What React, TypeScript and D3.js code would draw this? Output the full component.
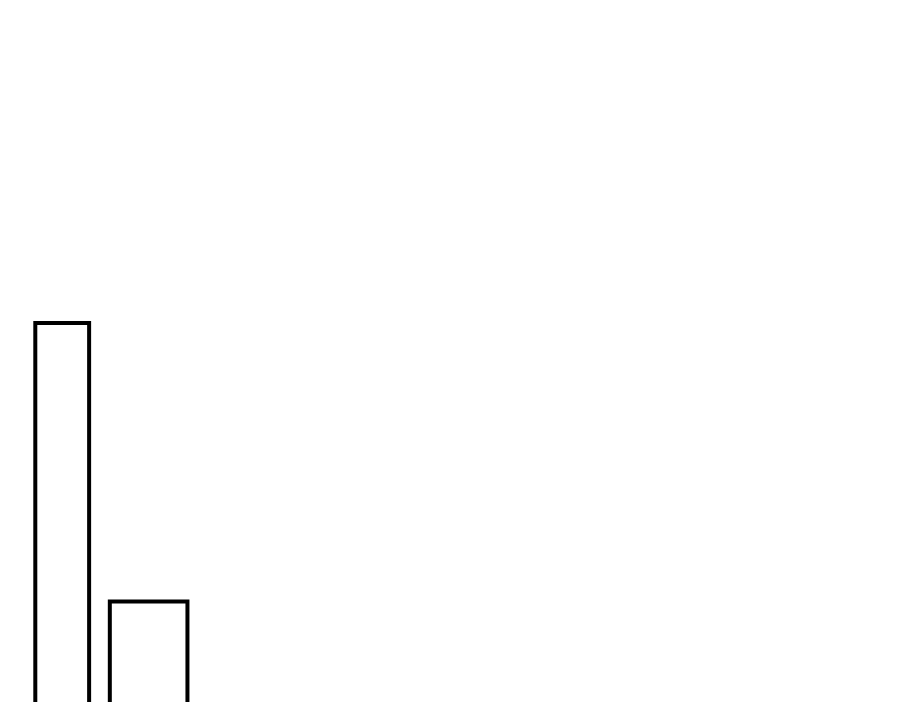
import { useEffect, useRef } from "react";
import * as d3 from "d3";

// Two outlined histogram bins; the baseline sits below the visible frame.
const binStart = [0, 7.2];
const binEnd = [5.2, 14.7];
const counts = [2, 1];

const W = 900;
const H = 702;

export default function App() {
  const svgRef = useRef<SVGSVGElement | null>(null);

  useEffect(() => {
    const svg = d3.select(svgRef.current);
    svg.selectAll("*").remove();

    const x = d3.scaleLinear().domain([0, 10]).range([35.3, 35.3 + 103.5]);
    const y = d3.scaleLinear().domain([0, 2]).range([880, 323]);

    const bins = counts.map((c, i) => ({ x0: binStart[i], x1: binEnd[i], c }));

    svg
      .append("rect")
      .attr("width", W)
      .attr("height", H)
      .attr("fill", "#ffffff");

    svg
      .append("g")
      .selectAll("rect")
      .data(bins)
      .join("rect")
      .attr("x", (d) => x(d.x0))
      .attr("y", (d) => y(d.c))
      .attr("width", (d) => x(d.x1) - x(d.x0))
      .attr("height", (d) => y(0) - y(d.c))
      .attr("fill", "none")
      .attr("stroke", "#000000")
      .attr("stroke-width", 4);
  }, []);

  return (
    <div style={{ position: "fixed", left: 0, top: 0, width: W, height: H, overflow: "hidden" }}>
      <svg ref={svgRef} width={W} height={H} style={{ display: "block" }} />
    </div>
  );
}
